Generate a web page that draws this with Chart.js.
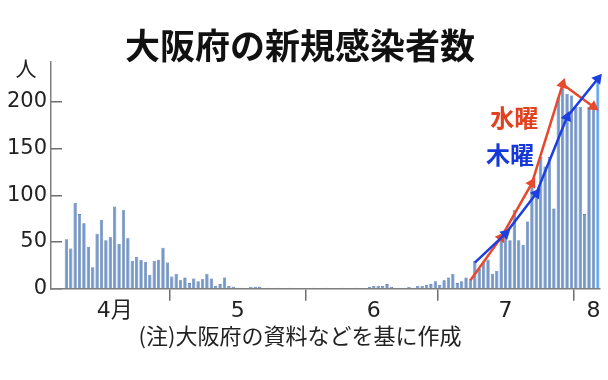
<!DOCTYPE html>
<html><head><meta charset="utf-8">
<script src="https://cdn.jsdelivr.net/npm/chart.js@4"></script>
<style>html,body{margin:0;padding:0;background:#fff}#wrap{width:608px;height:380px}</style>
</head><body><div id="wrap"><canvas id="c" width="608" height="380"></canvas></div>
<script>
// ---- data ----
const monthSpans = [[4, 4, 30], [5, 1, 31], [6, 1, 30], [7, 1, 31], [8, 1, 6]]; // month, first day, last day shown
const categories = [];
for (const [m, a, b] of monthSpans) for (let d = a; d <= b; d++) categories.push(m + '/' + d);

const dailyCases = [
  null, null, null,
  // April 7-30
  53, 43, 92, 80, 70, 45, 23, 59, 74, 52, 55, 88, 48, 84, 54, 30, 34, 31, 29, 15, 30, 31, 44, 28,
  // May
  13, 16, 9, 12, 6, 11, 8, 10, 16, 11, 3, 5, 12, 3, 2, 1, 1, 0, 2, 2, 2, 0, 1, 0, 1, 0, 0, 1, 0, 0, 0,
  // June
  0, 1, 0, 0, 1, 0, 0, 0, 1, 0, 0, 1, 0, 0, 2, 3, 3, 3, 5, 2, 1, 1, 0, 2, 1, 3, 3, 4, 5, 8,
  // July
  4, 9, 12, 16, 6, 8, 12, 10, 30, 21, 28, 31, 16, 19, 58, 62, 52, 84, 52, 47, 72, 115, 104, 141, 131, 141, 86, 205, 221, 209, 207,
  // August 1-6
  195, 195, 80, 195, 195, 225
];

const wedDates = ['7/8', '7/15', '7/22', '7/29', '8/5'];
const wedValues = [9, 55, 113, 219, 195];
const thuDates = ['7/9', '7/16', '7/23', '7/30', '8/6'];
const thuValues = [28, 59, 102, 184, 225];

const monthTickLabels = {'4/18': '4月', '5/16': '5', '6/16': '6', '7/16': '7', '8/5': '8'};
const yTickValues = [0, 50, 100, 150, 200];
const unitTickValue = 234;
const unitLabel = '人';

const weekdayLabels = [
  {text: '水曜', color: '#e2411f', at: '7/18', value: 183},
  {text: '木曜', color: '#1638d8', at: '7/17', value: 143}
];

// ---- chart ----
const FONT = '"DejaVu Sans", "Noto Sans CJK JP", sans-serif';
const CJK = '"Noto Sans CJK JP", sans-serif';
Chart.defaults.font.family = FONT;
const latestIndex = categories.length - 1;
const idxOf = (lab) => categories.indexOf(lab);
const isMonthStart = (i) => typeof categories[i] === 'string' && categories[i].endsWith('/1');

function arrowRotation(ctx) {
  const i = ctx.dataIndex;
  const data = ctx.dataset.data;
  const chart = ctx.chart;
  if (!i || !data[i] || !chart.scales || !chart.scales.x) return 0;
  const xs = chart.scales.x, ys = chart.scales.y;
  const x0 = xs.getPixelForValue(idxOf(data[i - 1].x)), y0 = ys.getPixelForValue(data[i - 1].y);
  const x1 = xs.getPixelForValue(idxOf(data[i].x)), y1 = ys.getPixelForValue(data[i].y);
  return Math.atan2(x1 - x0, -(y1 - y0)) * 180 / Math.PI;
}

const weekdayLabelPlugin = {
  id: 'weekdayLabels',
  afterDatasetsDraw(chart) {
    const {ctx, scales: {x, y}} = chart;
    ctx.save();
    ctx.font = 'bold 24px ' + CJK;
    ctx.textAlign = 'center';
    ctx.textBaseline = 'middle';
    for (const l of weekdayLabels) {
      ctx.fillStyle = l.color;
      ctx.fillText(l.text, x.getPixelForValue(idxOf(l.at)), y.getPixelForValue(l.value));
    }
    ctx.restore();
  }
};

function arrowLine(dates, values, color, order) {
  return {
    type: 'line',
    data: dates.map((d, i) => ({x: d, y: values[i]})),
    borderColor: color,
    borderWidth: 2.5,
    tension: 0,
    pointStyle: 'triangle',
    pointRadius: (c) => (c.dataIndex === 0 ? 0 : 6.5),
    pointHoverRadius: 0,
    pointBackgroundColor: color,
    pointBorderColor: color,
    pointBorderWidth: 0,
    pointRotation: arrowRotation,
    clip: false,
    order: order
  };
}

new Chart(document.getElementById('c'), {
  type: 'bar',
  data: {
    labels: categories,
    datasets: [
      {
        type: 'bar',
        data: dailyCases,
        backgroundColor: (c) => (c.dataIndex === latestIndex ? '#5ea6f5' : '#7399cc'),
        borderColor: (c) => (c.dataIndex === latestIndex ? '#5ea6f5' : '#46669a'),
        borderWidth: 0.6,
        barPercentage: 0.74,
        categoryPercentage: 1,
        order: 2
      },
      arrowLine(wedDates, wedValues, '#e8482c', 1),
      arrowLine(thuDates, thuValues, '#1c3fe0', 0)
    ]
  },
  options: {
    responsive: false,
    animation: false,
    layout: {padding: {left: 0, right: 8, top: 0, bottom: 32}},
    plugins: {
      legend: {display: false},
      tooltip: {enabled: false},
      title: {
        display: true, text: '大阪府の新規感染者数', color: '#111',
        font: {family: CJK, size: 35, weight: 'bold', lineHeight: 0.94},
        padding: {top: 29, bottom: 0}
      },
      subtitle: {
        display: true, position: 'bottom', text: '(注)大阪府の資料などを基に作成', color: '#222',
        font: {family: CJK, size: 22, weight: 'normal', lineHeight: 1.15},
        padding: {top: 0, bottom: 0}
      }
    },
    scales: {
      x: {
        type: 'category',
        offset: true,
        grid: {
          display: true, drawOnChartArea: false, drawTicks: true, tickLength: 12, offset: true, lineWidth: 1.5,
          color: (c) => (isMonthStart(c.index) ? '#6e6e6e' : 'rgba(0,0,0,0)')
        },
        border: {display: true, color: '#7e7e7e', width: 1.5},
        ticks: {
          autoSkip: false, maxRotation: 0, minRotation: 0, padding: -3, color: '#222',
          font: {size: 22},
          callback: (v, i) => monthTickLabels[categories[i]] || ''
        },
        afterFit: (s) => { s.height = 34; }
      },
      y: {
        min: 0, max: 243,
        afterBuildTicks: (s) => { s.ticks = yTickValues.concat([unitTickValue]).map((v) => ({value: v})); },
        grid: {
          drawOnChartArea: false, drawTicks: true, tickLength: -11, lineWidth: 1.5,
          color: (c) => (c.tick && c.tick.value === unitTickValue ? 'rgba(0,0,0,0)' : '#6e6e6e')
        },
        border: {display: true, color: '#7e7e7e', width: 1.5},
        ticks: {
          padding: 15, color: '#222', font: {size: 21},
          callback: (v) => (v === unitTickValue ? unitLabel + '\u2002' : v)
        },
        afterFit: (s) => { s.width = 51; }
      }
    }
  },
  plugins: [weekdayLabelPlugin]
});
</script>
</body></html>
